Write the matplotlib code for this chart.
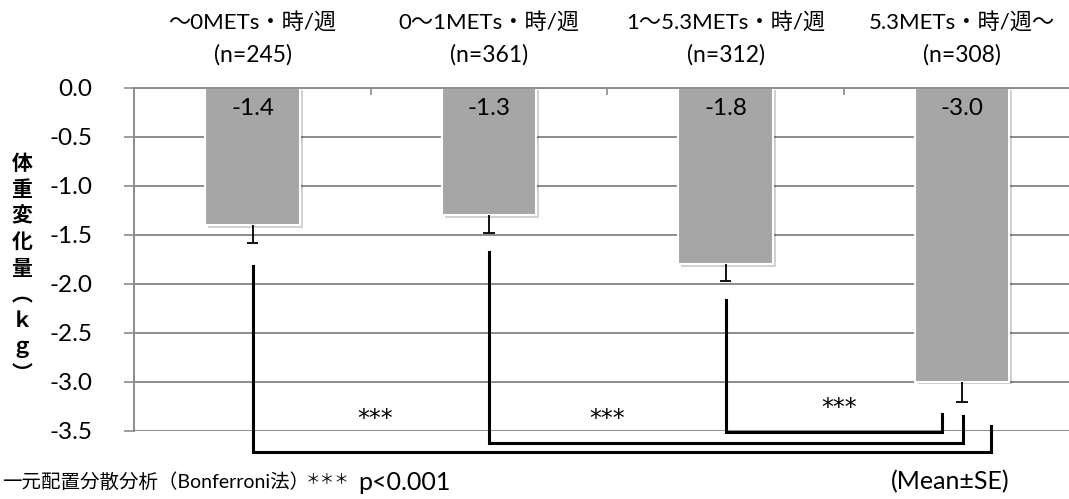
import matplotlib
matplotlib.use("Agg")
import matplotlib.pyplot as plt
import matplotlib.patheffects as pe
from matplotlib.ticker import FormatStrFormatter

plt.rcParams['font.family'] = ['Lato', 'Noto Sans CJK JP', 'DejaVu Sans']
plt.rcParams['axes.unicode_minus'] = False

# Groups by weekly physical activity
groups = ['～0METs・時/週', '0～1METs・時/週', '1～5.3METs・時/週', '5.3METs・時/週～']
counts = [245, 361, 312, 308]
mean_change = [-1.4, -1.3, -1.8, -3.0]
se = [0.19, 0.18, 0.17, 0.21]

# Pairwise comparisons against the most active group
comparisons = [(0, 3), (1, 3), (2, 3)]
sig_marks = ['***', '***', '***']

ylabel_chars = ['体', '重', '変', '化', '量', '︵', 'ｋ', 'ｇ', '︶']

fig = plt.figure(figsize=(10.69, 4.99), dpi=100)
ax = fig.add_axes([0.1256, 0.1369, 0.885, 0.6877])

x = list(range(len(groups)))
bar_color = '#a6a6a6'
grid_color = '#8c8c8c'

ax.set_xlim(-0.5, len(groups) - 0.5)
ax.set_ylim(-3.5, 0.0)
ax.set_yticks([0.0, -0.5, -1.0, -1.5, -2.0, -2.5, -3.0, -3.5])
ax.yaxis.set_major_formatter(FormatStrFormatter('%.1f'))
ax.yaxis.grid(True, color=grid_color, linewidth=1.4)
ax.set_axisbelow(True)

for side in ('right', 'bottom'):
    ax.spines[side].set_visible(False)
for side in ('left', 'top'):
    ax.spines[side].set_color(grid_color)
    ax.spines[side].set_linewidth(1.4)

ax.tick_params(axis='y', length=7, width=1.2, color=grid_color, labelsize=17.5,
               pad=23, labelcolor='black')
ax.xaxis.tick_top()
ax.set_xticks([i + 0.5 for i in x[:-1]])
ax.set_xticklabels([])
ax.tick_params(axis='x', direction='in', length=5, width=1.2, color=grid_color)

bars = ax.bar(x, mean_change, width=0.4, color=bar_color, edgecolor='white',
              linewidth=1.5, zorder=2)
for b in bars:
    b.set_path_effects([pe.SimplePatchShadow(offset=(2, -2), shadow_rgbFace='#000000',
                                             alpha=0.18), pe.Normal()])

# Lower standard-error whiskers
cap = 0.024
lows = [m - s for m, s in zip(mean_change, se)]
ax.vlines(x, mean_change, lows, color='black', linewidth=1.3, zorder=3)
ax.hlines(lows, [i - cap for i in x], [i + cap for i in x], color='black',
          linewidth=1.3, zorder=3)

# Value labels inside the bars
for i, m in zip(x, mean_change):
    ax.text(i, -0.21, f'{m:.1f}', ha='center', va='center', fontsize=17.5)

# Group headers above the plot
for i, g, n in zip(x, groups, counts):
    ax.text(i, 0.67, g, ha='center', va='center', fontsize=16, clip_on=False)
    ax.text(i, 0.33, f'(n={n})', ha='center', va='center', fontsize=16.5, clip_on=False)

# Significance brackets
bracket_start = [-1.82, -1.675, -2.17]
bracket_level = [-3.72, -3.625, -3.515]
bracket_right = [3.123, 3.004, 2.915]
bracket_end = [-3.45, -3.35, -3.325]
mark_pos = [(0.52, -3.38), (1.50, -3.38), (2.48, -3.27)]
for (a, b), y0, yl, xr, y1, (mx, my), s in zip(comparisons, bracket_start, bracket_level,
                                                 bracket_right, bracket_end, mark_pos, sig_marks):
    ax.plot([a, a, xr, xr], [y0, yl, yl, y1], color='black', linewidth=2.2,
            solid_joinstyle='miter', clip_on=False, zorder=4)
    ax.text(mx, my, s, ha='center', va='center', fontsize=17, clip_on=False,
            family=['DejaVu Sans'])

# Vertical axis title, one character per row
for k, ch in enumerate(ylabel_chars):
    fig.text(22 / 1069, 1 - (163 + k * 26.3) / 499, ch, ha='center', va='center',
             fontsize=15, fontweight='bold', family=['Noto Sans CJK JP'])

fig.text(2 / 1069, 1 - 482 / 499, '一元配置分散分析（Bonferroni法）', ha='left', va='center',
         fontsize=14)
fig.text(306 / 1069, 1 - 480 / 499, '＊＊＊', ha='left', va='center', fontsize=10.5)
fig.text(358 / 1069, 1 - 482 / 499, 'p<0.001', ha='left', va='center', fontsize=18)
fig.text(1010 / 1069, 1 - 482 / 499, '(Mean±SE)', ha='right', va='center', fontsize=18)

fig.savefig('out.png', dpi=100)
